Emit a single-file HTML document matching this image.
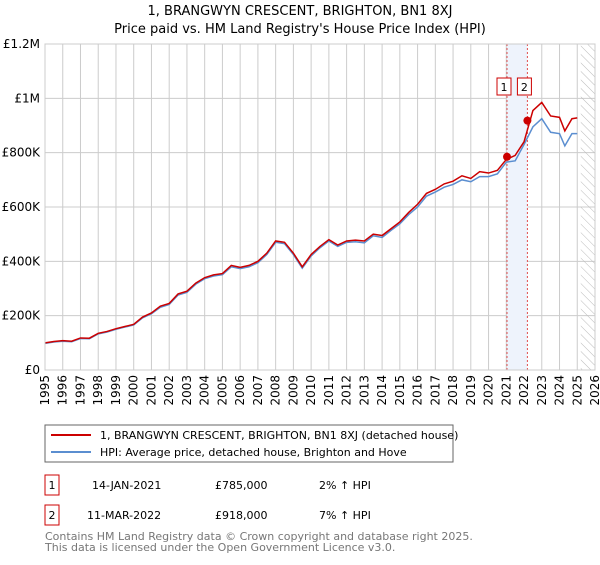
<!DOCTYPE html>
<html><head><meta charset="utf-8"><style>
body{margin:0;background:#fff;font-family:"Liberation Sans","DejaVu Sans",sans-serif;}
svg text{font-family:"DejaVu Sans","Liberation Sans",sans-serif;}
</style></head><body>
<svg width="600" height="560" xmlns="http://www.w3.org/2000/svg">
<defs><pattern id="hatch" width="6" height="6" patternUnits="userSpaceOnUse" patternTransform="rotate(-45)"><line x1="0" y1="0" x2="0" y2="6" stroke="#bbb" stroke-width="1"/></pattern></defs>
<text x="300" y="15" text-anchor="middle" font-size="13">1, BRANGWYN CRESCENT, BRIGHTON, BN1 8XJ</text>
<text x="300" y="33" text-anchor="middle" font-size="13">Price paid vs. HM Land Registry's House Price Index (HPI)</text>
<g id="grid"></g><g id="overlay"></g><g id="lines"></g><g id="axes"></g>
<rect x="45" y="425" width="408" height="37" fill="#fff" stroke="#666"/>
<line x1="51" y1="435" x2="91" y2="435" stroke="#cc0000" stroke-width="2"/>
<text x="100" y="439" font-size="11">1, BRANGWYN CRESCENT, BRIGHTON, BN1 8XJ (detached house)</text>
<line x1="51" y1="452" x2="91" y2="452" stroke="#5b8ed0" stroke-width="2"/>
<text x="100" y="456" font-size="11">HPI: Average price, detached house, Brighton and Hove</text>
<rect x="45" y="475" width="14" height="20" fill="none" stroke="#cc0000"/>
<text x="52" y="489" font-size="11" text-anchor="middle">1</text>
<text x="92" y="489" font-size="11">14-JAN-2021</text>
<text x="215" y="489" font-size="11">£785,000</text>
<text x="319" y="489" font-size="11">2% ↑ HPI</text>
<rect x="45" y="505" width="14" height="20" fill="none" stroke="#cc0000"/>
<text x="52" y="519" font-size="11" text-anchor="middle">2</text>
<text x="87" y="519" font-size="11">11-MAR-2022</text>
<text x="215" y="519" font-size="11">£918,000</text>
<text x="319" y="519" font-size="11">7% ↑ HPI</text>
<text x="45" y="540" font-size="11" fill="#777">Contains HM Land Registry data © Crown copyright and database right 2025.</text>
<text x="45" y="551" font-size="11" fill="#777">This data is licensed under the Open Government Licence v3.0.</text>
</svg>
<script>
const years=[1995,1995.5,1996,1996.5,1997,1997.5,1998,1998.5,1999,1999.5,2000,2000.5,2001,2001.5,2002,2002.5,2003,2003.5,2004,2004.5,2005,2005.5,2006,2006.5,2007,2007.5,2008,2008.5,2009,2009.5,2010,2010.5,2011,2011.5,2012,2012.5,2013,2013.5,2014,2014.5,2015,2015.5,2016,2016.5,2017,2017.5,2018,2018.5,2019,2019.5,2020,2020.5,2021,2021.5,2022,2022.5,2023,2023.5,2024,2024.3,2024.7,2025];
const priceValues=[100,105,108,106,118,117,135,142,152,160,168,195,210,235,245,280,290,320,340,350,355,385,378,385,400,430,475,470,430,380,425,455,480,460,475,478,475,500,495,520,545,580,610,650,665,685,695,715,705,730,725,735,775,790,840,955,985,935,930,880,925,928];
const hpiValues=[98,103,106,104,116,115,133,140,150,158,166,192,207,231,241,276,286,316,336,346,351,380,373,380,395,425,470,465,425,375,420,450,475,455,470,472,468,494,488,514,538,572,600,640,655,673,683,700,693,712,712,722,765,770,830,895,925,875,870,825,870,870];
const sales=[{t:2021.04,v:785,label:"1"},{t:2022.19,v:918,label:"2"}];
const yTicks=[0,200,400,600,800,1000,1200];
const yLabels=["£0","£200K","£400K","£600K","£800K","£1M","£1.2M"];
const X=t=>45+(t-1995)*(550/31);
const Y=v=>370-v*(326/1200);
const ns="http://www.w3.org/2000/svg";
function mk(tag,attrs,parent,txt){const e=document.createElementNS(ns,tag);for(const k in attrs)e.setAttribute(k,attrs[k]);if(txt!==undefined)e.textContent=txt;document.getElementById(parent).appendChild(e);return e;}
for(let yr=1995;yr<=2026;yr++){
 const g=mk('line',{x1:X(yr),x2:X(yr),y1:Y(1200),y2:Y(0),stroke:'#ccc','stroke-width':1},'grid');
 
 
 const t=mk('text',{x:0,y:0,'font-size':12,'text-anchor':'end',transform:`translate(${X(yr)+4},375) rotate(-90)`},'axes',String(yr));
 
 
}
yTicks.forEach((v,i)=>{
 const g=mk('line',{x1:45,x2:595,y1:Y(v),y2:Y(v),stroke:'#ccc','stroke-width':1},'grid');
 
 
 const t=mk('text',{x:40,y:Y(v)+4,'font-size':12,'text-anchor':'end'},'axes',yLabels[i]);
 
 
});
const band=mk('rect',{x:X(sales[0].t),y:Y(1200),width:X(sales[1].t)-X(sales[0].t),height:Y(0)-Y(1200),fill:'#eef3fc'},'overlay');


const hatch=mk('rect',{x:X(2025.2),y:Y(1200),width:X(2026)-X(2025.2),height:Y(0)-Y(1200),fill:'url(#hatch)'},'overlay');


sales.forEach(s=>{
 const l=mk('line',{x1:X(s.t),x2:X(s.t),y1:Y(1200),y2:Y(0),stroke:'#e05050','stroke-width':1,'stroke-dasharray':'2,2'},'overlay');
 
 
 const b=mk('rect',{x:X(s.t)-10,y:78,width:14,height:17,fill:'#fff',stroke:'#cc0000'},'overlay');
 
 
 mk('text',{x:X(s.t)-3,y:91,'font-size':11,'text-anchor':'middle'},'overlay',s.label);
});
const pts=a=>years.map((t,i)=>X(t)+','+Y(a[i])).join(' ');
const hp=mk('polyline',{points:pts(hpiValues),fill:'none',stroke:'#5b8ed0','stroke-width':1.5},'lines');


const pp=mk('polyline',{points:pts(priceValues),fill:'none',stroke:'#cc0000','stroke-width':1.5},'lines');


sales.forEach(s=>{
 const c=mk('circle',{cx:X(s.t),cy:Y(s.v),r:4,fill:'#cc0000'},'lines');
 
 
});
const fr=mk('rect',{x:45,y:Y(1200),width:550,height:Y(0)-Y(1200),fill:'none',stroke:'#ccc'},'axes');


</script>
</body></html>
